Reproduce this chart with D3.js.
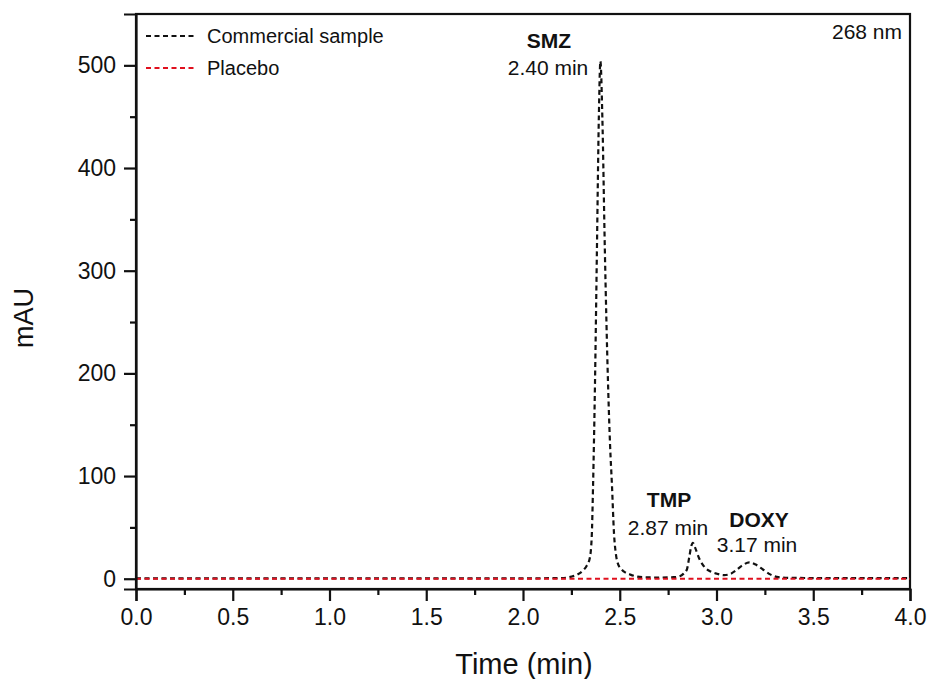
<!DOCTYPE html>
<html>
<head>
<meta charset="utf-8">
<script src="https://cdn.jsdelivr.net/npm/d3@7"></script>
<style>
  html, body { margin: 0; padding: 0; background: #fff; }
  svg text { font-family: "Liberation Sans", Arial, sans-serif; fill: #111; }
</style>
</head>
<body>
<svg id="chart" width="929" height="679"></svg>
<script>
// Chromatogram at 268 nm: commercial sample vs placebo
const sampleTime = [0, 0.5, 1.0, 1.5, 2.0, 2.2, 2.25, 2.28, 2.31, 2.33, 2.345, 2.355, 2.362, 2.372, 2.382,
  2.392, 2.40, 2.41, 2.423, 2.439, 2.45, 2.46, 2.47, 2.48, 2.49, 2.51, 2.53, 2.555, 2.58, 2.62,
  2.7, 2.78, 2.81, 2.83, 2.847, 2.86, 2.87, 2.878, 2.89, 2.91, 2.94, 2.97, 3.0, 3.04, 3.07,
  3.1, 3.13, 3.17, 3.2, 3.24, 3.28, 3.32, 3.4, 3.6, 3.8, 4.0];
const sampleMAU = [0.3, 0.3, 0.3, 0.3, 0.4, 0.6, 2, 4, 8, 13, 20, 40, 90, 190, 320,
  450, 504, 450, 320, 193, 130, 90, 45, 24, 15, 9, 6, 4, 2.5, 1.5,
  1.2, 1.5, 2.5, 5, 9, 22, 32, 35, 30, 20, 11, 7, 5, 3.5, 4.5,
  8, 12.5, 16, 14, 9, 4, 1.5, 0.8, 0.6, 0.6, 0.6];

const placeboTime = [0, 1, 2, 3, 4];
const placeboMAU = [0, 0, 0, 0, 0];

const xTicks = [0, 0.5, 1.0, 1.5, 2.0, 2.5, 3.0, 3.5, 4.0];
const yTicks = [0, 100, 200, 300, 400, 500];

const peakNames = ["SMZ", "TMP", "DOXY"];
const peakTimes = [2.40, 2.87, 3.17];

const seriesNames = ["Commercial sample", "Placebo"];
const seriesColors = ["#111111", "#e0101e"];

const svg = d3.select("#chart");
const plotLeft = 136, plotRight = 910, plotTop = 14, plotBottom = 589;

const x = d3.scaleLinear().domain([0, 4]).range([plotLeft, plotRight]);
const y = d3.scaleLinear().domain([-10, 550]).range([plotBottom, plotTop]);

// frame
svg.append("rect")
  .attr("x", plotLeft).attr("y", plotTop)
  .attr("width", plotRight - plotLeft).attr("height", plotBottom - plotTop)
  .attr("fill", "none").attr("stroke", "#111").attr("stroke-width", 2.2);

// traces
const line = d3.line().x(d => x(d[0])).y(d => y(d[1])).curve(d3.curveMonotoneX);
const sample = sampleTime.map((t, i) => [t, sampleMAU[i]]);
const placebo = placeboTime.map((t, i) => [t, placeboMAU[i]]);

svg.append("path").datum(sample)
  .attr("d", line).attr("fill", "none")
  .attr("stroke", seriesColors[0]).attr("stroke-width", 2.2)
  .attr("stroke-dasharray", "5,3.5");
svg.append("path").datum(placebo)
  .attr("d", line).attr("fill", "none")
  .attr("stroke", seriesColors[1]).attr("stroke-width", 2.2)
  .attr("stroke-dasharray", "5,3.5");

// x axis with minor ticks
const xMinor = d3.range(0.25, 4, 0.5);
svg.append("g").attr("transform", `translate(0,${plotBottom})`)
  .call(d3.axisBottom(x).tickValues(xMinor).tickSize(6).tickFormat(""))
  .call(g => g.select(".domain").remove())
  .call(g => g.selectAll("line").attr("stroke", "#111").attr("stroke-width", 2.2));
const xAxis = svg.append("g").attr("transform", `translate(0,${plotBottom})`)
  .call(d3.axisBottom(x).tickValues(xTicks).tickSize(12).tickPadding(8).tickFormat(d3.format(".1f")));
xAxis.select(".domain").attr("stroke", "#111").attr("stroke-width", 2.2);
xAxis.selectAll("line").attr("stroke", "#111").attr("stroke-width", 2.2);
xAxis.selectAll("text").attr("font-size", 23).attr("fill", "#111")
  .attr("font-family", "Liberation Sans, Arial, sans-serif");

// y axis with minor ticks
const yMinor = d3.range(50, 550, 100);
svg.append("g").attr("transform", `translate(${plotLeft},0)`)
  .call(d3.axisLeft(y).tickValues(yMinor).tickSize(6).tickFormat(""))
  .call(g => g.select(".domain").remove())
  .call(g => g.selectAll("line").attr("stroke", "#111").attr("stroke-width", 2.2));
const yAxis = svg.append("g").attr("transform", `translate(${plotLeft},0)`)
  .call(d3.axisLeft(y).tickValues(yTicks).tickSize(12).tickPadding(8));
yAxis.select(".domain").attr("stroke", "#111").attr("stroke-width", 2.2);
yAxis.selectAll("line").attr("stroke", "#111").attr("stroke-width", 2.2);
yAxis.selectAll("text").attr("font-size", 23).attr("fill", "#111")
  .attr("font-family", "Liberation Sans, Arial, sans-serif");

// axis titles
svg.append("text").attr("x", 524).attr("y", 674)
  .attr("text-anchor", "middle").attr("font-size", 29).text("Time (min)");
svg.append("text").attr("transform", "translate(33,318) rotate(-90)")
  .attr("text-anchor", "middle").attr("font-size", 27).text("mAU");

// wavelength
svg.append("text").attr("x", 902).attr("y", 39)
  .attr("text-anchor", "end").attr("font-size", 21).text("268 nm");

// legend
const legendY = [36, 68];
seriesNames.forEach((name, i) => {
  svg.append("line")
    .attr("x1", 146).attr("x2", 197).attr("y1", legendY[i]).attr("y2", legendY[i])
    .attr("stroke", seriesColors[i]).attr("stroke-width", 2.2)
    .attr("stroke-dasharray", "5,3.5");
  svg.append("text").attr("x", 207).attr("y", legendY[i] + 7)
    .attr("font-size", 20).text(name);
});

// peak annotations: name in bold, retention time below
const peakLabelPos = [
  { nx: 549, ny: 48, tx: 548, ty: 75 },
  { nx: 669, ny: 507, tx: 668, ty: 535 },
  { nx: 759, ny: 527, tx: 757, ty: 552 }
];
peakNames.forEach((name, i) => {
  const p = peakLabelPos[i];
  svg.append("text").attr("x", p.nx).attr("y", p.ny)
    .attr("text-anchor", "middle").attr("font-size", 21).attr("font-weight", "bold").text(name);
  svg.append("text").attr("x", p.tx).attr("y", p.ty)
    .attr("text-anchor", "middle").attr("font-size", 21).text(peakTimes[i].toFixed(2) + " min");
});
</script>
</body>
</html>
